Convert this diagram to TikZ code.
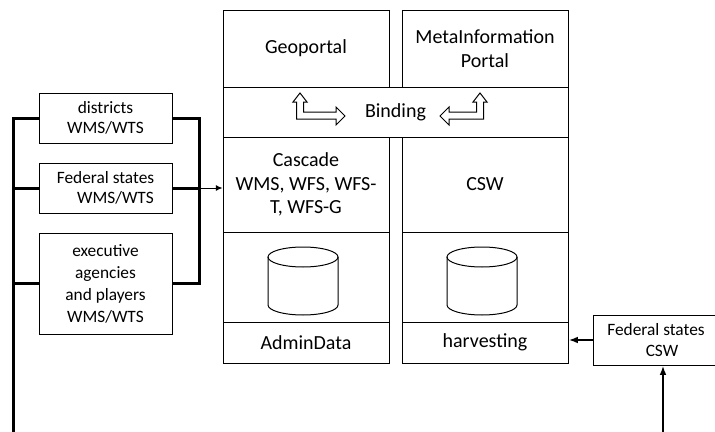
\documentclass[tikz,border=0pt]{standalone}
\usepackage{fontspec}
\setmainfont{Carlito}
\usetikzlibrary{arrows.meta}
\tikzset{
  box/.style={draw,line width=0.75pt,inner sep=0pt,align=center,
    font=\fontsize{15}{17.6}\selectfont},
  smallbox/.style={box,font=\fontsize{13}{15.5}\selectfont},
  bus/.style={line width=2.25pt},
  feed/.style={line width=1.5pt,-{Latex[length=7pt,width=5pt]}},
  thinfeed/.style={line width=0.75pt,-{Latex[length=5pt,width=4.5pt]}}
}
\begin{document}
\begin{tikzpicture}[x=0.75pt,y=-0.75pt]
	\useasboundingbox(0,0)rectangle(715,432);
	% portal column
	\node[box,minimum width=124.5pt,minimum height=57.75pt](geo)at(306,48.5){Geoportal};
	\node[box,minimum width=124.5pt,minimum height=57.75pt](meta)at(485,48.5){MetaInformation\\Portal};
	\node[box,minimum width=258.75pt,minimum height=37.5pt](bind)at(395.5,112){Binding};
	\node[box,minimum width=124.5pt,minimum height=71.25pt](casc)at(306,184.5){Cascade\\WMS, WFS, WFS-\\T, WFS-G};
	\node[box,minimum width=124.5pt,minimum height=71.25pt](csw)at(485,184.5){CSW};
	\node[box,minimum width=124.5pt,minimum height=67.5pt](dbl)at(306,277){};
	\node[box,minimum width=124.5pt,minimum height=67.5pt](dbr)at(485,277){};
	\node[box,minimum width=124.5pt,minimum height=30.75pt](admin)at(306,342.5){AdminData};
	\node[box,minimum width=124.5pt,minimum height=30.75pt](harv)at(485,342.5){harvesting};
	% databases
	\foreach \cx in {303,482}{
		\draw[line width=0.75pt](\cx-35,257)--(\cx-35,305)arc(180:0:35 and 10)--(\cx+35,257);
		\draw[line width=0.75pt](\cx,257)ellipse(35 and 10);
	}
	% binding arrows
	\draw[line width=0.75pt](300,93)--(307,102)--(303.5,102)--(303.5,112)--(336,112)--(336,107)
		--(345,116)--(336,125)--(336,119)--(296.5,119)--(296.5,102)--(293,102)--cycle;
	\draw[line width=0.75pt](480,93)--(487,102)--(483.5,102)--(483.5,119)--(449,119)--(449,125)
		--(440,116)--(449,107)--(449,112)--(476.5,112)--(476.5,102)--(473,102)--cycle;
	% sources
	\node[smallbox,minimum width=99.75pt,minimum height=37.5pt](dist)at(105.5,118){districts\\WMS/WTS};
	\node[smallbox,minimum width=99.75pt,minimum height=37.5pt](fed)at(105.5,188){Federal states\\\hspace*{15pt}WMS/WTS};
	\node[smallbox,minimum width=99.75pt,minimum height=75.75pt,
		font=\fontsize{13}{16.5}\selectfont](exe)at(105.5,283.5){executive\\agencies\\and players\\WMS/WTS};
	\node[smallbox,minimum width=94.5pt,minimum height=37.5pt](fcsw)at(656,340){Federal states\\\hspace*{9pt}CSW};
	\coordinate(lbbot)at(13,432);
	\coordinate(rbus)at(199,118);
	\coordinate(csin)at(663,432);
	\draw[bus](lbbot)--(lbbot|-dist.west)--(dist.west);
	\draw[bus](lbbot|-fed.west)--(fed.west);
	\draw[bus](lbbot|-exe.west)--(exe.west);
	\draw[bus](dist.east)--(dist.east-|rbus)--(exe.east-|rbus)--(exe.east);
	\draw[bus](fed.east)--(fed.east-|rbus);
	\draw[thinfeed](fed.east-|rbus)--(fed.east-|casc.west);
	\draw[feed](fcsw.west)--(fcsw.west-|harv.east);
	\draw[feed](csin)--(csin|-fcsw.south);
\end{tikzpicture}
\end{document}
